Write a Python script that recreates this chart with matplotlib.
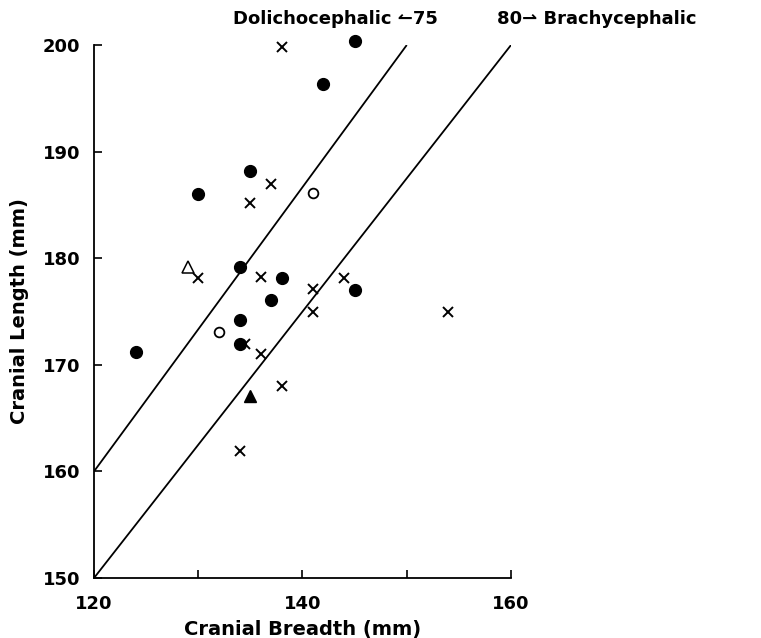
import matplotlib
matplotlib.use("Agg")
import matplotlib.pyplot as plt
import numpy as np

plt.rcParams['font.family'] = ['DejaVu Sans']

# Data (cranial breadth, cranial length in mm)
filled_circle_x = [145, 142, 135, 130, 134, 138, 137, 145, 134, 134, 124]
filled_circle_y = [200.4, 196.3, 188.2, 186.0, 179.2, 178.1, 176.1, 177.0, 174.2, 172.0, 171.2]

cross_x = [138, 137, 135, 130, 136, 141, 144, 141, 154, 134.5, 136, 138, 134]
cross_y = [199.8, 187.0, 185.2, 178.1, 178.2, 177.1, 178.1, 175.0, 175.0, 172.0, 171.0, 168.0, 161.9]

open_circle_x = [141, 132]
open_circle_y = [186.1, 173.1]

open_triangle_x = [129]
open_triangle_y = [179.2]

filled_triangle_x = [135]
filled_triangle_y = [167.1]

index_lines = [75, 80]          # cranial index B/L*100
line75_breadth = [120, 150]
line80_breadth = [120, 160]

xticks = [120, 130, 140, 150, 160]
xticklabels = ['120', '', '140', '', '160']
yticks = [150, 160, 170, 180, 190, 200]

fig = plt.figure(figsize=(7.61, 6.38), dpi=100)
ax = fig.add_axes([0.1235, 0.094, 0.548, 0.8354])

# index lines
for idx, br in zip(index_lines, [line75_breadth, line80_breadth]):
    b = np.array(br, dtype=float)
    ax.plot(b, b * 100.0 / idx, color='black', lw=1.3, solid_capstyle='butt', zorder=2)

kw = dict(clip_on=False, linestyle='none')
ax.plot(filled_circle_x, filled_circle_y, 'o', color='black', ms=8.5, zorder=3, **kw)
ax.plot(cross_x, cross_y, 'x', color='black', ms=7, mew=1.4, zorder=4, **kw)
ax.plot(open_circle_x, open_circle_y, 'o', mfc='white', mec='black', ms=7, mew=1.3, zorder=3, **kw)
ax.plot(open_triangle_x, open_triangle_y, '^', mfc='white', mec='black', ms=8, mew=1.1, zorder=3, **kw)
ax.plot(filled_triangle_x, filled_triangle_y, '^', color='black', ms=8.5, zorder=3, **kw)

ax.set_xlim(120, 160)
ax.set_ylim(150, 200)
ax.set_xticks(xticks)
ax.set_xticklabels(xticklabels)
ax.set_yticks(yticks)

for s in ['top', 'right']:
    ax.spines[s].set_visible(False)
for s in ['left', 'bottom']:
    ax.spines[s].set_linewidth(1.3)

ax.tick_params(direction='in', length=6, width=1.2, labelsize=13)
ax.tick_params(axis='y', pad=10)
ax.tick_params(axis='x', pad=12)
for lab in ax.get_xticklabels() + ax.get_yticklabels():
    lab.set_fontweight('bold')

ax.set_xlabel('Cranial Breadth (mm)', fontsize=14, fontweight='bold', labelpad=5)
ax.set_ylabel('Cranial Length (mm)', fontsize=14, fontweight='bold', labelpad=10)

fig.text(0.5756, 0.971, 'Dolichocephalic \u21bc75', ha='right', va='center',
         fontsize=13, fontweight='bold')
fig.text(0.653, 0.971, '80\u21c0 Brachycephalic', ha='left', va='center',
         fontsize=13, fontweight='bold')

fig.savefig('out.png', dpi=100)
